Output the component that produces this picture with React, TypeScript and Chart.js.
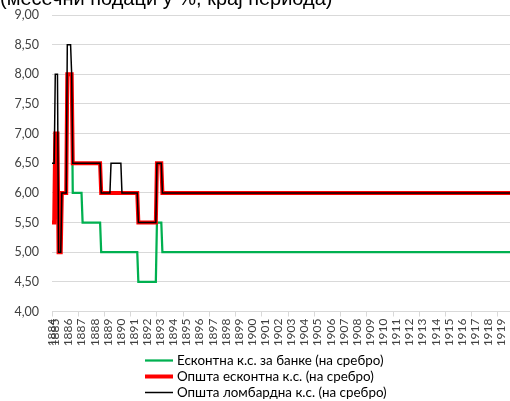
import React, { useEffect, useRef } from 'react';
import { Chart, registerables } from 'chart.js';

Chart.register(...registerables);

// ---- data ----
const titleText = '(месечни подаци у %, крај периода)';
const startYear = 1884;
const startMonth = 10; // first observation: October 1884
const monthCount = 420;

const seriesNames = [
  'Есконтна к.с. за банке (на сребро)',
  'Општа есконтна к.с. (на сребро)',
  'Општа ломбардна к.с. (на сребро)',
];

// rate levels and how many consecutive months each level held
const greenValues = [5.5, 7, 5, 6, 8, 6, 5.5, 5, 4.5, 5.5, 5];
const greenMonths = [3, 3, 3, 5, 5, 9, 17, 34, 17, 5, 319];
const redValues = [5.5, 7, 5, 6, 8, 6.5, 6, 5.5, 6.5, 6];
const redMonths = [3, 3, 3, 5, 5, 26, 34, 17, 5, 319];
const blackValues = [6.5, 8, 5, 6, 8.5, 8, 6.5, 6, 6.5, 6, 5.5, 6.5, 6];
const blackMonths = [3, 3, 3, 5, 4, 1, 26, 9, 10, 15, 17, 5, 319];

const yMin = 4;
const yMax = 9;
const yStep = 0.5;

const colors = ['#00b050', '#ff0000', '#000000'];
const widths = [2.25, 4, 1.5];

function expand(values: number[], months: number[]): number[] {
  const out: number[] = [];
  values.forEach((v, i) => {
    for (let k = 0; k < months[i]; k++) out.push(v);
  });
  return out;
}

const categories: string[] = [];
const tickLabels: string[] = [];
for (let i = 0; i < monthCount; i++) {
  const m0 = startMonth - 1 + i;
  const year = startYear + Math.floor(m0 / 12);
  const month = (m0 % 12) + 1;
  categories.push(`${year}-${String(month).padStart(2, '0')}`);
  tickLabels.push(i === 0 || month === 1 ? String(year) : '');
}

const overlayPlugin = {
  id: 'overlay',
  afterDraw(chart: any) {
    const ctx = chart.ctx as CanvasRenderingContext2D;
    ctx.save();
    ctx.fillStyle = '#000';
    ctx.font = '20px "Liberation Sans", sans-serif';
    ctx.textBaseline = 'alphabetic';
    ctx.textAlign = 'left';
    ctx.fillText(titleText, 0, 5);

    const rows = [360.5, 376.5, 392.5];
    ctx.font = '13.4px Lato, sans-serif';
    ctx.textBaseline = 'middle';
    seriesNames.forEach((name, i) => {
      ctx.beginPath();
      ctx.strokeStyle = colors[i];
      ctx.lineWidth = widths[i];
      ctx.moveTo(145, rows[i]);
      ctx.lineTo(173, rows[i]);
      ctx.stroke();
      ctx.fillStyle = '#000';
      ctx.fillText(name, 177, rows[i]);
    });
    ctx.restore();
  },
};

export default function App() {
  const ref = useRef<HTMLCanvasElement>(null);

  useEffect(() => {
    if (!ref.current) return;
    const datas = [
      expand(greenValues, greenMonths),
      expand(redValues, redMonths),
      expand(blackValues, blackMonths),
    ];
    const chart = new Chart(ref.current, {
      type: 'line',
      data: {
        labels: categories,
        datasets: seriesNames.map((name, i) => ({
          label: name,
          data: datas[i],
          borderColor: colors[i],
          backgroundColor: colors[i],
          borderWidth: widths[i],
          pointRadius: 0,
          tension: 0,
          fill: false,
          order: 3 - i,
        })),
      },
      options: {
        animation: false,
        responsive: false,
        devicePixelRatio: 1,
        layout: { padding: { top: 15, bottom: 55, left: 0, right: 0 } },
        plugins: {
          legend: { display: false },
          tooltip: { enabled: false },
          title: { display: false },
        },
        scales: {
          x: {
            type: 'category',
            ticks: {
              autoSkip: false,
              maxRotation: 90,
              minRotation: 90,
              padding: 2,
              color: '#404040',
              font: { family: 'Lato, sans-serif', size: 12 },
              callback: (_v: any, i: number) => tickLabels[i],
            },
            grid: {
              drawOnChartArea: false,
              drawTicks: true,
              tickLength: 5,
              color: (c: any) => (c.index % 24 === 0 ? '#d9d9d9' : 'rgba(0,0,0,0)'),
            },
            border: { display: true, color: '#d9d9d9', width: 1 },
            afterFit: (scale: any) => {
              scale.height = 34.5;
              scale.paddingLeft = 0;
              scale.paddingRight = 0;
            },
          },
          y: {
            min: yMin,
            max: yMax,
            ticks: {
              stepSize: yStep,
              padding: 13,
              color: '#404040',
              font: { family: 'Lato, sans-serif', size: 12.5 },
              callback: (v: any) => Number(v).toFixed(2).replace('.', ','),
            },
            grid: { color: '#d9d9d9', drawTicks: false, lineWidth: 1 },
            border: { display: false },
            afterFit: (scale: any) => {
              scale.width = 52;
              scale.paddingTop = 0;
              scale.paddingBottom = 0;
            },
          },
        },
      },
      plugins: [overlayPlugin],
    });
    return () => chart.destroy();
  }, []);

  return (
    <div style={{ position: 'absolute', left: 0, top: 0, width: 510, height: 401 }}>
      <canvas ref={ref} width={510} height={401} style={{ width: 510, height: 401 }} />
    </div>
  );
}
